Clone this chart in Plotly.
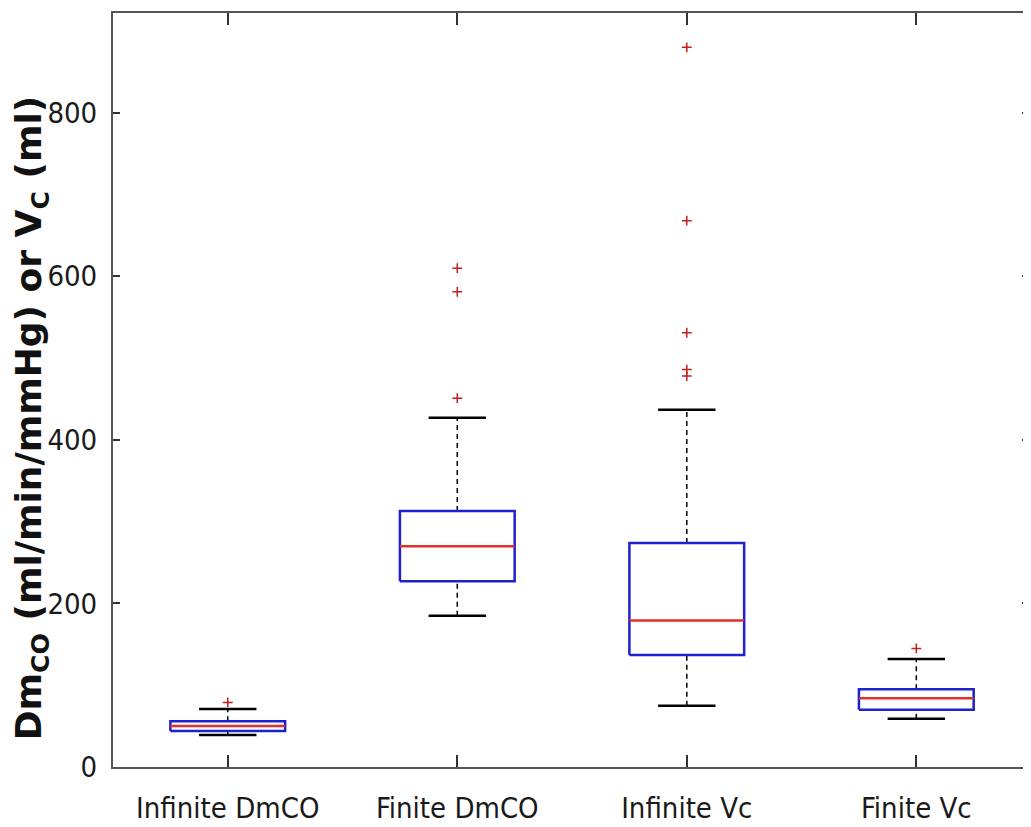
import plotly.graph_objects as go

categories = ["Infinite DmCO", "Finite DmCO", "Infinite Vc", "Finite Vc"]
positions = [1, 2, 3, 4]
q1 = [44, 227, 137, 70]
median = [50, 270, 179, 84]
q3 = [56, 313, 274, 95]
lower_whisker = [39, 185, 75, 59]
upper_whisker = [71, 427, 437, 132]
outliers = [
    [79],
    [451, 581, 610],
    [478, 486, 531, 668, 880],
    [145],
]
y_ticks = [0, 200, 400, 600, 800]

BOX_HALF = 0.25
CAP_HALF = 0.125

box_x, box_y = [], []
med_x, med_y = [], []
wh_x, wh_y = [], []
cap_x, cap_y = [], []
out_x, out_y = [], []
for i, c in enumerate(positions):
    box_x += [c - BOX_HALF, c + BOX_HALF, c + BOX_HALF, c - BOX_HALF, c - BOX_HALF, None]
    box_y += [q1[i], q1[i], q3[i], q3[i], q1[i], None]
    med_x += [c - BOX_HALF, c + BOX_HALF, None]
    med_y += [median[i], median[i], None]
    wh_x += [c, c, None, c, c, None]
    wh_y += [q3[i], upper_whisker[i], None, lower_whisker[i], q1[i], None]
    cap_x += [c - CAP_HALF, c + CAP_HALF, None, c - CAP_HALF, c + CAP_HALF, None]
    cap_y += [upper_whisker[i], upper_whisker[i], None, lower_whisker[i], lower_whisker[i], None]
    for v in outliers[i]:
        out_x.append(c)
        out_y.append(v)

fig = go.Figure()
fig.add_trace(go.Scatter(x=wh_x, y=wh_y, mode="lines",
                         line=dict(color="black", width=1.5, dash="5px,4px"), hoverinfo="skip"))
fig.add_trace(go.Scatter(x=cap_x, y=cap_y, mode="lines",
                         line=dict(color="black", width=2.5), hoverinfo="skip"))
fig.add_trace(go.Scatter(x=box_x, y=box_y, mode="lines",
                         line=dict(color="#2020d0", width=2.5), hoverinfo="skip"))
fig.add_trace(go.Scatter(x=med_x, y=med_y, mode="lines",
                         line=dict(color="#e03030", width=2.5), hoverinfo="skip"))
fig.add_trace(go.Scatter(x=out_x, y=out_y, mode="markers",
                         marker=dict(symbol="cross-thin", size=7,
                                     line=dict(color="#c02020", width=1.5)),
                         hoverinfo="skip"))

narrow = "DejaVu Sans Condensed, Liberation Sans Narrow, sans-serif"

# the page body has an 8px margin: size the figure so the plot area lands where the reference has it
fig.update_layout(
    width=1023, height=819,
    autosize=False,
    margin=dict(l=105, r=0, t=5, b=60),
    paper_bgcolor="white",
    plot_bgcolor="white",
    showlegend=False,
    xaxis=dict(
        range=[0.5, 4.491],
        tickmode="array",
        tickvals=positions,
        ticktext=categories,
        ticks="inside",
        ticklen=12,
        tickwidth=1.5,
        tickcolor="#333333",
        showline=True,
        linecolor="#555555",
        linewidth=2,
        mirror="ticks",
        showgrid=False,
        zeroline=False,
        tickfont=dict(family=narrow, size=29, color="#1a1a1a"),
        ticklabelstandoff=14,
    ),
    yaxis=dict(
        range=[0, 922],
        tickmode="array",
        tickvals=y_ticks,
        ticktext=[str(v) for v in y_ticks],
        ticks="inside",
        ticklen=7,
        tickwidth=1.5,
        tickcolor="#333333",
        showline=True,
        linecolor="#555555",
        linewidth=2,
        mirror="ticks",
        showgrid=False,
        zeroline=False,
        tickfont=dict(family=narrow, size=29, color="#1a1a1a"),
        ticklabelstandoff=8,
    ),
    annotations=[dict(
        text="Dm<sub>CO</sub> (ml/min/mmHg) or V<sub>C</sub> (ml)",
        xref="paper", yref="paper",
        x=-0.088, y=0.463,
        xanchor="center", yanchor="middle",
        textangle=-90,
        showarrow=False,
        font=dict(family="DejaVu Sans, Arial, sans-serif", size=36, color="#111111", weight="bold"),
    )],
)

fig.write_html("out.html")
